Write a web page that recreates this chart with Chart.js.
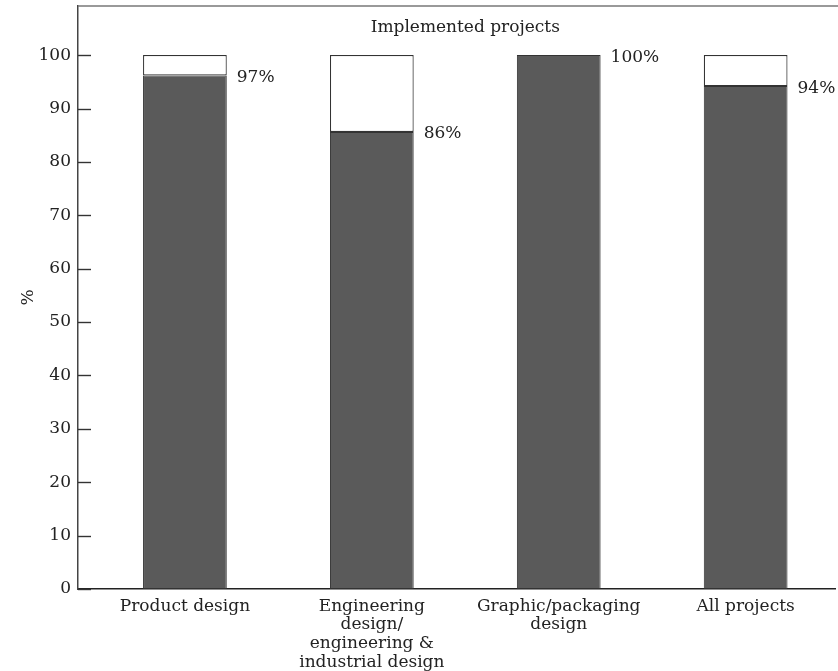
<!DOCTYPE html>
<html>
<head>
<meta charset="utf-8">
<script src="https://cdn.jsdelivr.net/npm/chart.js@4.4.1/dist/chart.umd.min.js"></script>
<style>
  html, body { margin: 0; padding: 0; background: #fff; }
  #wrap { width: 838px; height: 671px; }
</style>
</head>
<body>
<div id="wrap"><canvas id="chart"></canvas></div>
<script>
// chart data
const categories = [
  ["Product design"],
  ["Engineering", "design/", "engineering &", "industrial design"],
  ["Graphic/packaging", "design"],
  ["All projects"]
];
const implemented = [96.2, 85.6, 100, 94.2];     // dark part
const notImplemented = [3.8, 14.4, 0, 5.8];      // white part up to 100
const pctLabels = ["97%", "86%", "100%", "94%"];
const yTicks = [0, 10, 20, 30, 40, 50, 60, 70, 80, 90, 100];
const chartTitle = "Implemented projects";

const serif = "'DejaVu Serif', 'Liberation Serif', serif";
const ink = "#222";

// extra drawing: inward ticks, top border, title, % labels
const decorPlugin = {
  id: "decor",
  afterDatasetsDraw(chart) {
    const { ctx, chartArea, scales } = chart;
    const x = scales.x, y = scales.y;
    ctx.save();

    // inward tick marks on the y axis
    ctx.strokeStyle = "#333";
    ctx.lineWidth = 1.4;
    yTicks.forEach(v => {
      const py = Math.round(y.getPixelForValue(v)) + 0.5;
      ctx.beginPath();
      ctx.moveTo(chartArea.left, py);
      ctx.lineTo(chartArea.left + 13, py);
      ctx.stroke();
    });

    // top border
    ctx.strokeStyle = "#777";
    ctx.lineWidth = 1.5;
    ctx.beginPath();
    ctx.moveTo(chartArea.left, chartArea.top);
    ctx.lineTo(chart.width, chartArea.top);
    ctx.stroke();

    // title inside the plot
    ctx.fillStyle = ink;
    ctx.font = "17px " + serif;
    ctx.textAlign = "center";
    ctx.textBaseline = "middle";
    ctx.fillText(chartTitle, x.getPixelForValue(1.5), y.getPixelForValue(105.2));

    // percentage labels next to each bar
    const meta = chart.getDatasetMeta(0);
    ctx.textAlign = "left";
    meta.data.forEach((bar, i) => {
      const right = bar.x + bar.width / 2;
      ctx.fillText(pctLabels[i], right + 10, bar.y + 2);
    });

    ctx.restore();
  }
};

new Chart(document.getElementById("chart"), {
  type: "bar",
  data: {
    datasets: [
      {
        label: "Implemented",
        data: implemented.map((v, i) => ({ x: i, y: v })),
        backgroundColor: "#5a5a5a",
        borderColor: "#333",
        borderWidth: 1,
        borderSkipped: false,
        categoryPercentage: 1,
        barPercentage: 0.448
      },
      {
        label: "Not implemented",
        data: notImplemented.map((v, i) => ({ x: i, y: v })),
        backgroundColor: "#fff",
        borderColor: "#333",
        borderWidth: 1.2,
        borderSkipped: false,
        categoryPercentage: 1,
        barPercentage: 0.448
      }
    ]
  },
  options: {
    responsive: true,
    maintainAspectRatio: false,
    animation: false,
    layout: { padding: { top: 6, right: 3, left: 0, bottom: 0 } },
    plugins: {
      legend: { display: false },
      tooltip: { enabled: false }
    },
    scales: {
      x: {
        type: "linear",
        stacked: true,
        offset: false,
        min: -0.572,
        max: 3.478,
        afterBuildTicks: s => { s.ticks = categories.map((c, i) => ({ value: i })); },
        afterFit: s => { s.height = 82; s.paddingLeft = 0; s.paddingRight = 0; },
        grid: { display: false, drawTicks: false },
        border: { display: true, color: "#222", width: 1.5 },
        ticks: {
          color: ink,
          font: { family: serif, size: 17, lineHeight: 1.1 },
          padding: 8,
          maxRotation: 0,
          autoSkip: false,
          callback: v => categories[v]
        }
      },
      y: {
        stacked: true,
        min: 0,
        max: 109.2,
        afterBuildTicks: s => { s.ticks = yTicks.map(v => ({ value: v })); },
        afterFit: s => { s.width = 78; s.paddingTop = 0; s.paddingBottom = 0; },
        grid: { display: false, drawTicks: false },
        border: { display: true, color: "#444", width: 1.5 },
        ticks: {
          color: ink,
          font: { family: serif, size: 17 },
          padding: 7
        },
        title: {
          display: true,
          text: "%",
          color: ink,
          font: { family: serif, size: 17 },
          padding: { top: 18, bottom: 0 }
        }
      }
    }
  },
  plugins: [decorPlugin]
});
</script>
</body>
</html>
